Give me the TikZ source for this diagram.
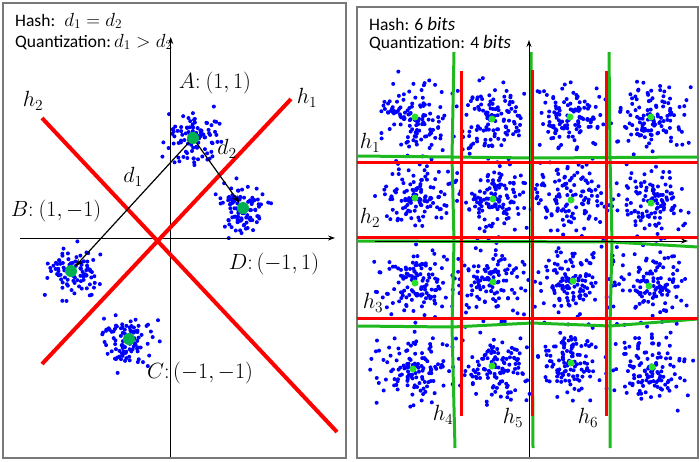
\documentclass[tikz,border=0pt]{standalone}
\usepackage{fix-cm}
\usepackage{fontspec}
\setmainfont{Carlito}
\usetikzlibrary{arrows.meta}
\definecolor{dkgreen}{RGB}{0,176,80}
\definecolor{ltgreen}{RGB}{40,225,40}
\definecolor{lgreen}{RGB}{30,185,30}
\definecolor{frame}{RGB}{120,120,120}
\newcommand\mycluster[4]{%
  \foreach \i in {1,...,#4}{%
    \pgfmathsetmacro\dx{#3*(rand+rand+rand)}%
    \pgfmathsetmacro\dy{#3*(rand+rand+rand)}%
    \fill[blue] (#1+\dx,#2+\dy) circle (2pt);
  }}
\newcommand\mybigmath[1]{{\fontsize{19}{20}\selectfont$#1$}}
\begin{document}
\begin{tikzpicture}[x=1pt,y=-1pt,
  panel/.style={draw=frame,line width=1.5pt},
  axis/.style={line width=1pt,-{Stealth[length=7pt,width=5pt]}},
  redline/.style={red,line width=4pt},
  redgrid/.style={red,line width=3pt},
  greengrid/.style={lgreen,line width=3pt,line join=round},
  bigdot/.style={circle,fill=dkgreen,minimum size=12pt,inner sep=0pt},
  smalldot/.style={circle,fill=ltgreen,minimum size=7pt,inner sep=0pt},
  txt/.style={font=\fontsize{17.5}{21}\selectfont,anchor=base west,inner sep=0pt},
  lab/.style={font=\fontsize{22}{25}\selectfont,inner sep=0pt},
  dist/.style={line width=1.2pt,-{Stealth[length=8pt,width=6pt]}}]
\useasboundingbox (0,0) rectangle (700,461);
\pgfmathsetseed{4242}
% ---------------- left panel ----------------
\draw[panel] (3,3) rectangle (346,458);
\mycluster{193}{138}{12.5}{100}
\mycluster{243}{208}{12.5}{100}
\mycluster{71}{271}{12.5}{100}
\mycluster{129}{339}{12.5}{100}
\coordinate (vb) at (170.7,457);
\coordinate (vt) at (170.7,37);
\coordinate (hl) at (20,238);
\coordinate (hr) at (335,238);
\draw[axis] (vb) -- (vt);
\draw[axis] (hl) -- (hr);
\coordinate (h1a) at (291,99);
\coordinate (h1b) at (42,364);
\coordinate (h2a) at (42,118);
\coordinate (h2b) at (337,432);
\draw[redline] (h1a) -- (h1b);
\draw[redline] (h2a) -- (h2b);
\node[bigdot] (A) at (193,138) {};
\node[bigdot] (D) at (243,208) {};
\node[bigdot] (B) at (71,271) {};
\node[bigdot] (C) at (129,339) {};
\draw[dist] (A) -- (B);
\draw[dist] (A) -- (D);
\node[txt] (t1) at (15,26) {Hash: \ \mybigmath{d_1=d_2}};
\node[txt] (t2) at (15,47) {Quantization:\mybigmath{\,d_1>d_2}};
\node[lab] (lA) at (215,83) {$A{:}\ (1,1)$};
\node[lab] (lB) at (56,211) {$B{:}\ (1,-1)$};
\node[lab] (lC) at (200,373) {$C{:}\,(-1,-1)$};
\node[lab] (lD) at (274,264) {$D{:}\,(-1,1)$};
\node[lab] (ld1) at (133,177) {$d_1$};
\node[lab] (ld2) at (227,149) {$d_2$};
\node[lab] (lh1) at (307,98) {$h_1$};
\node[lab] (lh2) at (33,101) {$h_2$};
% ---------------- right panel ----------------
\draw[panel] (357,7) rectangle (698,458);
\foreach \cx/\cy in {415/117,492/119,570/117,651/117,
    415/198,493/199,571/200,651/203,
    415/283,493/282,573/281,649/286,
    413/369,492/366,571/363,652/367}{%
  \mycluster{\cx}{\cy}{17}{120}
}
% green hash lines
\draw[greengrid] (357,156) -- (452,157) -- (532,158) -- (698,157);
\draw[greengrid] (357,241) -- (612,242) -- (698,247);
\draw[greengrid] (357,326) -- (452,327) -- (532,323) -- (610,326) -- (698,319);
\draw[greengrid] (454,52) -- (452,157) -- (454,241) -- (452,327) -- (455,448);
\draw[greengrid] (531,52) -- (533,448);
\draw[greengrid] (609,52) -- (610,157) -- (612,242) -- (610,326) -- (610,448);
% red quantization lines
\draw[redgrid] (357,162) -- (698,162);
\draw[redgrid] (357,237) -- (698,237);
\draw[redgrid] (357,318) -- (698,318);
\draw[redgrid] (461,71) -- (461,416);
\draw[redgrid] (532,70) -- (532,416);
\draw[redgrid] (606,71) -- (606,416);
% axes
\coordinate (rvb) at (529,457);
\coordinate (rvt) at (529,40);
\coordinate (rhl) at (375,241);
\coordinate (rhr) at (688,241);
\draw[axis] (rvb) -- (rvt);
\draw[axis] (rhl) -- (rhr);
\foreach \cx/\cy [count=\k] in {415/117,492/119,570/117,651/117,
    415/198,493/199,571/200,651/203,
    415/283,493/282,573/281,649/286,
    413/369,492/366,571/363,652/367}{%
  \node[smalldot] (g\k) at (\cx,\cy) {};
}
\node[txt] (t3) at (369,30) {Hash: 6 \mybigmath{\mathit{bits}}};
\node[txt] (t4) at (369,48) {Quantization: 4 \mybigmath{\mathit{bits}}};
\node[lab] (rh1) at (370,143) {$h_1$};
\node[lab] (rh2) at (370,218) {$h_2$};
\node[lab] (rh3) at (373,303) {$h_3$};
\node[lab] (rh4) at (443,415) {$h_4$};
\node[lab] (rh5) at (513,418) {$h_5$};
\node[lab] (rh6) at (588,418) {$h_6$};
\end{tikzpicture}
\end{document}
